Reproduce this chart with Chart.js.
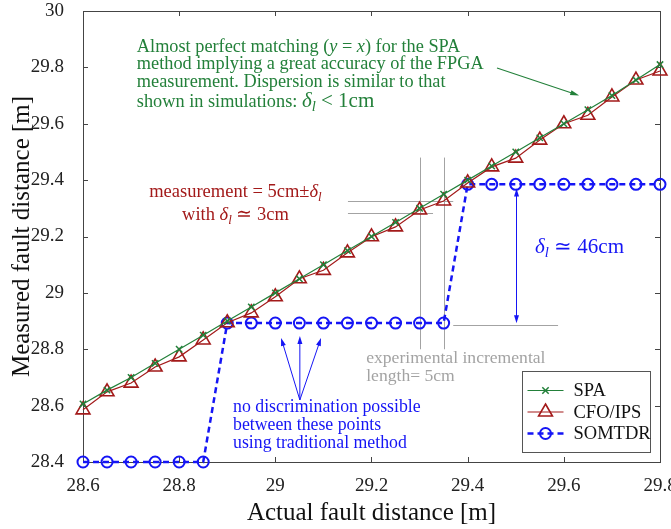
<!DOCTYPE html>
<html><head><meta charset="utf-8">
<script src="https://cdn.jsdelivr.net/npm/chart.js@4/dist/chart.umd.min.js"></script>
<style>html,body{margin:0;padding:0;background:#fff}#wrap{width:671px;height:529px}</style>
</head><body><div id="wrap"><canvas id="c" width="671" height="529"></canvas></div>
<script>
// ---- data ----
const actualDistance = [28.6,28.65,28.7,28.75,28.8,28.85,28.9,28.95,29.0,29.05,29.1,29.15,29.2,29.25,29.3,29.35,29.4,29.45,29.5,29.55,29.6,29.65,29.7,29.75,29.8];
const spaValues = [28.606,28.655,28.70,28.75,28.80,28.85,28.90,28.95,29.00,29.05,29.10,29.15,29.20,29.25,29.30,29.35,29.40,29.45,29.50,29.55,29.60,29.65,29.70,29.755,29.81];
const cfoValues = [28.585,28.649,28.68,28.737,28.773,28.833,28.894,28.929,28.986,29.05,29.08,29.142,29.199,29.234,29.294,29.326,29.39,29.447,29.478,29.542,29.60,29.63,29.695,29.755,29.787];
const somtdrValues = [28.40,28.40,28.40,28.40,28.40,28.40,28.893,28.893,28.893,28.893,28.893,28.893,28.893,28.893,28.893,28.893,29.385,29.385,29.385,29.385,29.385,29.385,29.385,29.385,29.385];
const xTicks = {min:28.6, max:29.8, step:0.2};
const yTicks = {min:28.4, max:30, step:0.2};
const seriesNames = ['SPA','CFO/IPS','SOMTDR'];

const GREEN='#23803a', RED='#a31a1a', BLUE='#1515f5', GRAY='#a3a3a3';
const SERIF='"Liberation Serif","Times New Roman",serif';

// rich text segments: [text, size, italic, subscript]
function drawRich(ctx, x, y, segs, align, color){
  ctx.save(); ctx.fillStyle=color; ctx.textBaseline='alphabetic'; ctx.textAlign='left';
  const font=(s)=> `${s[2]?'italic ':''}${s[3]?s[1]*0.7:s[1]}px ${SERIF}`;
  let w=0; segs.forEach(s=>{ctx.font=font(s); w+=ctx.measureText(s[0]).width;});
  let cx = align==='center'? x-w/2 : (align==='right'? x-w : x);
  segs.forEach(s=>{ctx.font=font(s); ctx.fillText(s[0], cx, y + (s[3]? s[1]*0.22:0)); cx+=ctx.measureText(s[0]).width;});
  ctx.restore();
}
function arrowHead(ctx, x1,y1,x2,y2, len, wid, color){
  const a=Math.atan2(y2-y1,x2-x1);
  ctx.save(); ctx.fillStyle=color; ctx.beginPath();
  ctx.moveTo(x2,y2);
  ctx.lineTo(x2-len*Math.cos(a)+wid*Math.sin(a), y2-len*Math.sin(a)-wid*Math.cos(a));
  ctx.lineTo(x2-len*Math.cos(a)-wid*Math.sin(a), y2-len*Math.sin(a)+wid*Math.cos(a));
  ctx.closePath(); ctx.fill(); ctx.restore();
}

// annotations in data coordinates
const greenText = {x:28.712, y:[29.854,29.793,29.73,29.66], size:18.3, big:21};
const redText = {x:28.917, y:[29.34,29.258], size:18.5};
const grayText = {x:29.189, y:[28.751,28.688], size:17.6};
const blueText = {x:28.912, y:[28.578,28.514,28.45], size:17.8};
const blueLabel = {x:29.54, y:29.142, size:21};
const greenArrow = {x1:29.461,y1:29.798,x2:29.632,y2:29.70};
const grayV = [{x:29.3,y1:29.48,y2:28.80},{x:29.35,y1:29.48,y2:28.80}];
const grayH = [{y:29.325,x1:29.151,x2:29.37},{y:29.285,x1:29.151,x2:29.328},{y:28.885,x1:29.37,x2:29.588}];
const deltaArrow = {x:29.5, y1:29.37, y2:28.892};
const threeArrows = {x:29.051, y:28.62, targets:[[29.012,28.84],[29.051,28.847],[29.095,28.84]]};

const overlay = {
  id:'overlay',
  beforeDatasetsDraw(chart){
    const {ctx, chartArea:a, scales:{x,y}} = chart;
    ctx.save();
    ctx.strokeStyle=GRAY; ctx.lineWidth=1;
    grayV.forEach(l=>{ctx.beginPath(); ctx.moveTo(Math.round(x.getPixelForValue(l.x))+0.5, y.getPixelForValue(l.y1)); ctx.lineTo(Math.round(x.getPixelForValue(l.x))+0.5, y.getPixelForValue(l.y2)); ctx.stroke();});
    grayH.forEach(l=>{const py=Math.round(y.getPixelForValue(l.y))+0.5; ctx.beginPath(); ctx.moveTo(x.getPixelForValue(l.x1),py); ctx.lineTo(x.getPixelForValue(l.x2),py); ctx.stroke();});
    // frame
    ctx.strokeStyle='#444'; ctx.lineWidth=1;
    ctx.strokeRect(Math.round(a.left)+0.5, Math.round(a.top)+0.5, Math.round(a.right-a.left), Math.round(a.bottom-a.top));
    const tl=5;
    for(let v=xTicks.min; v<=xTicks.max+1e-9; v+=xTicks.step){
      const px=Math.round(x.getPixelForValue(v))+0.5;
      ctx.beginPath(); ctx.moveTo(px,a.bottom); ctx.lineTo(px,a.bottom-tl); ctx.moveTo(px,a.top); ctx.lineTo(px,a.top+tl); ctx.stroke();
    }
    for(let v=yTicks.min; v<=yTicks.max+1e-9; v+=yTicks.step){
      const py=Math.round(y.getPixelForValue(v))+0.5;
      ctx.beginPath(); ctx.moveTo(a.left,py); ctx.lineTo(a.left+tl,py); ctx.moveTo(a.right,py); ctx.lineTo(a.right-tl,py); ctx.stroke();
    }
    ctx.restore();
  },
  afterDraw(chart){
    const {ctx, chartArea:a, scales:{x,y}} = chart;
    ctx.save();
    // green text
    const gs=greenText.size, gb=greenText.big, gx=x.getPixelForValue(greenText.x);
    drawRich(ctx,gx,y.getPixelForValue(greenText.y[0]),[['Almost perfect matching (',gs],['y',gs,1],[' = ',gs],['x',gs,1],[') for the SPA',gs]],'left',GREEN);
    drawRich(ctx,gx,y.getPixelForValue(greenText.y[1]),[['method implying a great accuracy of the FPGA',gs]],'left',GREEN);
    drawRich(ctx,gx,y.getPixelForValue(greenText.y[2]),[['measurement. Dispersion is similar to that',gs]],'left',GREEN);
    drawRich(ctx,gx,y.getPixelForValue(greenText.y[3]),[['shown in simulations: ',gs],['δ',gb,1],['l',gb,1,1],[' < 1cm',gb]],'left',GREEN);
    // green arrow
    let ax1=x.getPixelForValue(greenArrow.x1), ay1=y.getPixelForValue(greenArrow.y1), ax2=x.getPixelForValue(greenArrow.x2), ay2=y.getPixelForValue(greenArrow.y2);
    ctx.strokeStyle=GREEN; ctx.lineWidth=1.1; ctx.beginPath(); ctx.moveTo(ax1,ay1); ctx.lineTo(ax2-6,ay2-2); ctx.stroke();
    arrowHead(ctx,ax1,ay1,ax2,ay2,9,2.5,GREEN);
    // red text
    const rs=redText.size, rx=x.getPixelForValue(redText.x);
    drawRich(ctx,rx,y.getPixelForValue(redText.y[0]),[['measurement = 5cm±',rs],['δ',rs,1],['l',rs,1,1]],'center',RED);
    drawRich(ctx,rx,y.getPixelForValue(redText.y[1]),[['with ',rs],['δ',rs,1],['l',rs,1,1],[' ≃ 3cm',rs]],'center',RED);
    // gray text
    const gr=grayText.size, grx=x.getPixelForValue(grayText.x);
    drawRich(ctx,grx,y.getPixelForValue(grayText.y[0]),[['experimental incremental',gr]],'left',GRAY);
    drawRich(ctx,grx,y.getPixelForValue(grayText.y[1]),[['length= 5cm',gr]],'left',GRAY);
    // delta arrow (double)
    const dx=Math.round(x.getPixelForValue(deltaArrow.x))+0.5, dy1=y.getPixelForValue(deltaArrow.y1), dy2=y.getPixelForValue(deltaArrow.y2);
    ctx.strokeStyle=BLUE; ctx.lineWidth=1; ctx.beginPath(); ctx.moveTo(dx,dy1+5); ctx.lineTo(dx,dy2-5); ctx.stroke();
    arrowHead(ctx,dx,dy1+20,dx,dy1,8,2.5,BLUE); arrowHead(ctx,dx,dy2-20,dx,dy2,8,2.5,BLUE);
    drawRich(ctx,x.getPixelForValue(blueLabel.x),y.getPixelForValue(blueLabel.y),[['δ',blueLabel.size,1],['l',blueLabel.size,1,1],[' ≃ 46cm',blueLabel.size]],'left',BLUE);
    // three arrows
    const ox=x.getPixelForValue(threeArrows.x), oy=y.getPixelForValue(threeArrows.y);
    threeArrows.targets.forEach(t=>{const tx=x.getPixelForValue(t[0]), ty=y.getPixelForValue(t[1]);
      const ang=Math.atan2(ty-oy,tx-ox);
      ctx.beginPath(); ctx.moveTo(ox,oy); ctx.lineTo(tx-6*Math.cos(ang),ty-6*Math.sin(ang)); ctx.stroke();
      arrowHead(ctx,ox,oy,tx,ty,8,2.5,BLUE);});
    const bs=blueText.size, bx=x.getPixelForValue(blueText.x);
    drawRich(ctx,bx,y.getPixelForValue(blueText.y[0]),[['no discrimination possible',bs]],'left',BLUE);
    drawRich(ctx,bx,y.getPixelForValue(blueText.y[1]),[['between these points',bs]],'left',BLUE);
    drawRich(ctx,bx,y.getPixelForValue(blueText.y[2]),[['using traditional method',bs]],'left',BLUE);
    // legend
    const lw=128, lh=81, lx=Math.round(a.right-10-lw)+0.5, ly=Math.round(a.bottom-10-lh)+0.5;
    ctx.fillStyle='#fff'; ctx.fillRect(lx,ly,lw,lh);
    ctx.strokeStyle='#555'; ctx.lineWidth=1; ctx.strokeRect(lx,ly,lw,lh);
    chart.data.datasets.forEach((ds,i)=>{
      const cy=ly+19+i*21.5;
      ctx.save(); ctx.strokeStyle=ds.borderColor; ctx.lineWidth=ds.borderWidth; ctx.setLineDash(ds.borderDash||[]);
      ctx.beginPath(); ctx.moveTo(lx+5,cy); ctx.lineTo(lx+41,cy); ctx.stroke(); ctx.setLineDash([]);
      ctx.lineWidth=ds.pointBorderWidth; ctx.fillStyle='rgba(0,0,0,0)';
      Chart.helpers.drawPoint(ctx,{pointStyle:ds.pointStyle,radius:ds.pointRadius,rotation:0,borderWidth:ds.pointBorderWidth},lx+23,cy);
      ctx.restore();
      ctx.fillStyle='#111'; ctx.font=`18.5px ${SERIF}`; ctx.textBaseline='middle'; ctx.textAlign='left';
      ctx.fillText(ds.label, lx+51, cy+1);
    });
    ctx.restore();
  }
};

const pts=(ys)=>actualDistance.map((v,i)=>({x:v,y:ys[i]}));
new Chart(document.getElementById('c'),{
  type:'line',
  data:{datasets:[
    {label:seriesNames[0], data:pts(spaValues), borderColor:GREEN, borderWidth:1.2, pointStyle:'crossRot', pointRadius:4.5, pointBorderWidth:1.5, pointBorderColor:GREEN, pointBackgroundColor:'rgba(0,0,0,0)', tension:0, order:1, clip:false},
    {label:seriesNames[1], data:pts(cfoValues), borderColor:RED, borderWidth:1.2, pointStyle:'triangle', pointRadius:8, pointBorderWidth:1.6, pointBorderColor:RED, pointBackgroundColor:'rgba(0,0,0,0)', tension:0, order:2, clip:false},
    {label:seriesNames[2], data:pts(somtdrValues), borderColor:BLUE, borderWidth:2.5, borderDash:[6,4], pointStyle:'circle', pointRadius:5.5, pointBorderWidth:2, pointBorderColor:BLUE, pointBackgroundColor:'rgba(0,0,0,0)', tension:0, order:3, clip:false}
  ]},
  options:{
    responsive:false, animation:false, devicePixelRatio:1,
    layout:{padding:{top:11,right:11,left:0,bottom:0}},
    plugins:{legend:{display:false}, tooltip:{enabled:false}},
    scales:{
      x:{type:'linear', min:xTicks.min, max:xTicks.max,
        ticks:{stepSize:xTicks.step, color:'#222', font:{family:SERIF,size:19}, padding:5, maxRotation:0, callback:v=>String(Math.round(v*10)/10)},
        grid:{display:false}, border:{display:false},
        title:{display:true, text:'Actual fault distance [m]', color:'#111', font:{family:SERIF,size:25}, padding:{top:0,bottom:1}},
        afterFit:s=>{s.height=67; s.paddingLeft=0; s.paddingRight=0;}},
      y:{type:'linear', min:yTicks.min, max:yTicks.max,
        ticks:{stepSize:yTicks.step, color:'#222', font:{family:SERIF,size:19}, padding:11, callback:v=>String(Math.round(v*10)/10)},
        grid:{display:false}, border:{display:false},
        title:{display:true, text:'Measured fault distance [m]', color:'#111', font:{family:SERIF,size:25}, padding:{top:7,bottom:0}},
        afterFit:s=>{s.width=83; s.paddingTop=0; s.paddingBottom=0;}}
    }
  },
  plugins:[overlay]
});
</script></body></html>
